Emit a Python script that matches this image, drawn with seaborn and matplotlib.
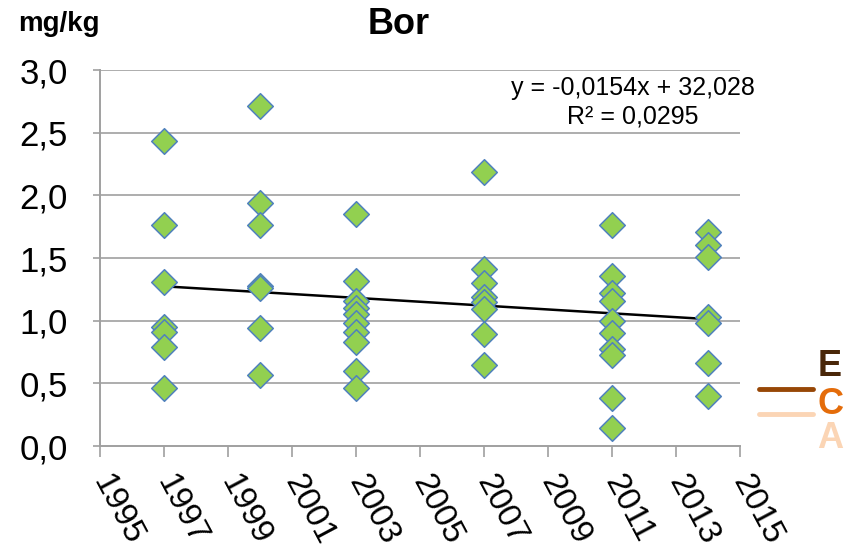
import numpy as np
import pandas as pd
import matplotlib
matplotlib.use("Agg")
import matplotlib.pyplot as plt
import matplotlib.transforms as mtransforms
import seaborn as sns

# ---- data ----
years = [1997, 2000, 2003, 2007, 2011, 2014]
vals_1997 = [2.43, 1.76, 1.31, 0.95, 0.91, 0.79, 0.46]
vals_2000 = [2.71, 1.94, 1.76, 1.28, 1.26, 0.94, 0.57]
vals_2003 = [1.85, 1.32, 1.16, 1.10, 1.05, 0.98, 0.91, 0.83, 0.60, 0.46]
vals_2007 = [2.19, 1.41, 1.30, 1.19, 1.15, 1.09, 0.89, 0.65]
vals_2011 = [1.76, 1.36, 1.22, 1.16, 1.00, 0.90, 0.77, 0.73, 0.38, 0.14]
vals_2014 = [1.71, 1.60, 1.51, 1.03, 0.98, 0.66, 0.40]
trend_slope = -0.0154
trend_intercept = 32.028
r_squared = 0.0295
x_ticks = [1995, 1997, 1999, 2001, 2003, 2005, 2007, 2009, 2011, 2013, 2015]
y_ticks = [0.0, 0.5, 1.0, 1.5, 2.0, 2.5, 3.0]
legend_letters = ["E", "C", "A"]

all_vals = [vals_1997, vals_2000, vals_2003, vals_2007, vals_2011, vals_2014]
df = pd.DataFrame({
    "year": [y for y, v in zip(years, all_vals) for _ in v],
    "value": [x for v in all_vals for x in v],
})

sns.set_theme(style="white")
plt.rcParams["font.family"] = ["Liberation Sans", "DejaVu Sans"]
plt.rcParams["text.color"] = "black"
plt.rcParams["xtick.color"] = "black"
plt.rcParams["ytick.color"] = "black"

fig = plt.figure(figsize=(8.46, 5.48), dpi=100)
ax = fig.add_axes([100 / 846, 1 - 446 / 548, 640 / 846, 376 / 548])

grid_c = "#A0A0A0"
for yv in y_ticks[1:]:
    ax.axhline(yv, color=grid_c, lw=1.2, zorder=0)

# trend line
tx = np.array([min(years), max(years)], dtype=float)
ty = trend_slope * tx + trend_intercept
sns.lineplot(x=tx, y=ty, ax=ax, color="black", lw=1.8, zorder=2)

sns.scatterplot(data=df, x="year", y="value", ax=ax, marker="D", s=170,
                color="#92D050", edgecolor="#4F81BD", linewidth=1.1, zorder=3)

ax.set_xlim(1995, 2015)
ax.set_ylim(0, 3.0)
ax.set_xticks(x_ticks)
ax.set_yticks(y_ticks)
ax.set_yticklabels([f"{v:.1f}".replace(".", ",") for v in y_ticks], fontsize=25,
                   color="black")
ax.set_xticklabels([str(t) for t in x_ticks], fontsize=24, rotation=-62,
                   ha="left", va="center", rotation_mode="anchor", color="black")
offset = mtransforms.ScaledTranslation(-8 / 100, 0, fig.dpi_scale_trans)
for lbl in ax.get_xticklabels():
    lbl.set_transform(lbl.get_transform() + offset)
ax.set_xlabel("")
ax.set_ylabel("")

for s in ["top", "right"]:
    ax.spines[s].set_visible(False)
for s in ["left", "bottom"]:
    ax.spines[s].set_color(grid_c)
    ax.spines[s].set_linewidth(1.4)
ax.tick_params(axis="x", direction="out", length=8, width=1.2, color=grid_c,
               labelcolor="black", pad=14, bottom=True)
ax.tick_params(axis="y", direction="out", length=5, width=1.2, color=grid_c,
               labelcolor="black", pad=18, left=True)

eq1 = f"y = {trend_slope}x + {trend_intercept:.3f}".replace(".", ",")
eq2 = f"R² = {r_squared}".replace(".", ",")
ax.text(0.833, 0.952, eq1, transform=ax.transAxes, ha="center", va="center",
        fontsize=18, color="black")
ax.text(0.833, 0.877, eq2, transform=ax.transAxes, ha="center", va="center",
        fontsize=18, color="black")

fig.text(399 / 846, 1 - 25 / 548, "Bor", ha="center", va="center",
         fontsize=26, fontweight="bold", color="black")
fig.text(18 / 846, 1 - 24 / 548, "mg/kg", ha="left", va="center",
         fontsize=20, fontweight="bold", color="black")

# E / C / A decoration
letter_cols = ["#4A2709", "#E46C0A", "#FBD5B5"]
letter_y = [367, 404, 439]
for lt, c, yy in zip(legend_letters, letter_cols, letter_y):
    fig.text(830 / 846, 1 - yy / 548, lt, ha="center", va="center",
             fontsize=26, fontweight="bold", color=c)
fig.add_artist(plt.Line2D([759 / 846, 813 / 846], [1 - 389 / 548, 1 - 389 / 548],
                          color="#974706", lw=3.5, transform=fig.transFigure))
fig.add_artist(plt.Line2D([759 / 846, 813 / 846], [1 - 414 / 548, 1 - 414 / 548],
                          color="#FBD5B5", lw=3.5, transform=fig.transFigure))

fig.savefig("out.png", dpi=100)
